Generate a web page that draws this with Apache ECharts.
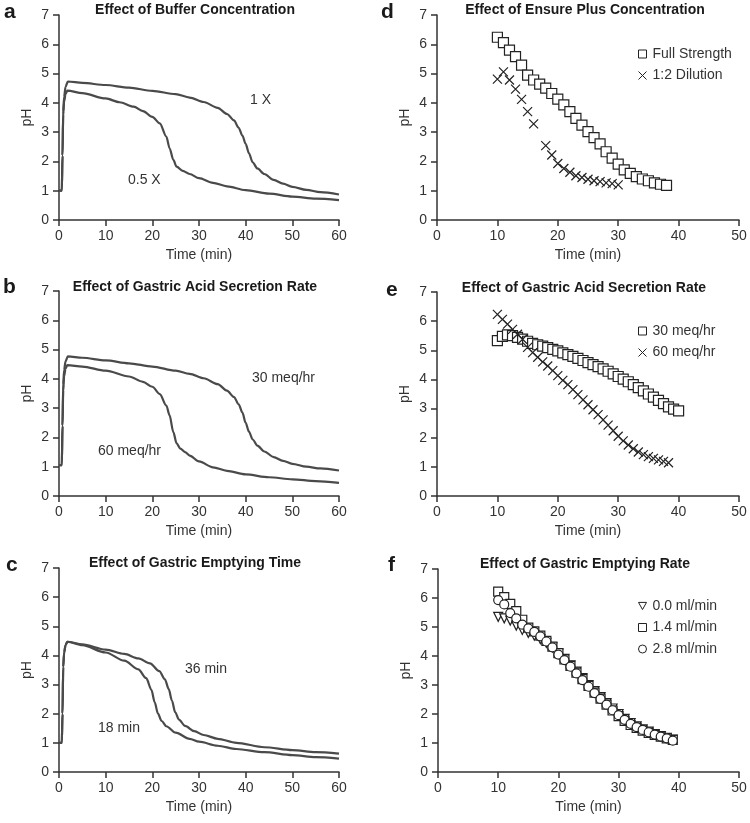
<!DOCTYPE html>
<html>
<head>
<meta charset="utf-8">
<script src="https://cdn.jsdelivr.net/npm/echarts@6/dist/echarts.min.js"></script>
<style>html,body{margin:0;padding:0;background:#fff}#c{width:750px;height:823px}</style>
</head>
<body>
<div id="c"></div>
<script>
// ---------- Panel a: Effect of Buffer Concentration ----------
const aT_half = [0, 0.6, 0.75, 0.9, 1.1, 1.4, 1.8, 5, 10, 13, 16, 18, 20, 21.6, 23, 23.7, 24.5, 25.2, 26.5, 28, 30, 33, 36, 40, 45, 50, 55, 60];
const aPH_half = [1.0, 1.0, 2.2, 3.6, 4.05, 4.3, 4.42, 4.33, 4.15, 4.02, 3.87, 3.72, 3.52, 3.3, 2.85, 2.45, 2.05, 1.82, 1.68, 1.57, 1.43, 1.27, 1.15, 1.02, 0.9, 0.8, 0.73, 0.68];
const aT_one = [0, 0.6, 0.75, 0.9, 1.1, 1.4, 1.9, 5, 10, 15, 20, 25, 28, 31, 34, 36, 37.5, 38.5, 39.3, 40, 40.7, 41.5, 42.5, 44, 46, 48, 50, 53, 56, 60];
const aPH_one = [1.0, 1.0, 2.2, 3.7, 4.2, 4.55, 4.73, 4.68, 4.61, 4.52, 4.41, 4.3, 4.18, 4.03, 3.83, 3.62, 3.4, 3.15, 2.88, 2.6, 2.28, 1.97, 1.76, 1.57, 1.37, 1.24, 1.13, 1.03, 0.95, 0.87];

// ---------- Panel b: Effect of Gastric Acid Secretion Rate ----------
const bT_30 = [0, 0.6, 0.75, 0.9, 1.1, 1.4, 1.9, 5, 10, 15, 20, 25, 28, 31, 34, 36, 37.5, 38.5, 39.3, 40, 40.7, 41.5, 42.5, 44, 46, 48, 50, 53, 56, 60];
const bPH_30 = [1.05, 1.05, 2.4, 3.8, 4.3, 4.6, 4.77, 4.72, 4.63, 4.53, 4.42, 4.28, 4.17, 4.02, 3.82, 3.6, 3.38, 3.13, 2.85, 2.5, 2.2, 1.93, 1.72, 1.52, 1.33, 1.2, 1.1, 1.0, 0.94, 0.87];
const bT_60 = [0, 0.6, 0.75, 0.9, 1.1, 1.4, 1.8, 5, 10, 15, 18, 20, 21.6, 23, 23.7, 24.5, 25.2, 26, 27, 28, 30, 33, 36, 40, 45, 50, 55, 60];
const bPH_60 = [1.05, 1.05, 2.4, 3.6, 4.1, 4.35, 4.47, 4.42, 4.28, 4.08, 3.9, 3.73, 3.48, 3.09, 2.75, 2.18, 1.8, 1.62, 1.5, 1.38, 1.18, 0.98, 0.86, 0.74, 0.64, 0.57, 0.51, 0.45];

// ---------- Panel c: Effect of Gastric Emptying Time ----------
const cT_18 = [0, 0.6, 0.75, 0.9, 1.1, 1.4, 1.8, 5, 10, 14, 17, 18.7, 19.8, 20.5, 21.2, 22, 23, 25, 28, 30, 34, 38, 44, 50, 55, 60];
const cPH_18 = [1.0, 1.0, 2.0, 3.6, 4.1, 4.35, 4.47, 4.35, 4.1, 3.82, 3.52, 3.22, 2.82, 2.4, 2.0, 1.75, 1.57, 1.35, 1.14, 1.04, 0.9, 0.79, 0.68, 0.58, 0.51, 0.46];
const cT_36 = [0, 0.6, 0.75, 0.9, 1.1, 1.4, 1.8, 5, 10, 14, 17, 19.5, 21.5, 22.7, 23.5, 24.2, 24.9, 25.7, 27, 29, 31, 34, 38, 44, 50, 55, 60];
const cPH_36 = [1.0, 1.0, 2.0, 3.6, 4.1, 4.35, 4.47, 4.38, 4.2, 4.05, 3.9, 3.73, 3.46, 3.18, 2.85, 2.45, 2.05, 1.8, 1.58, 1.4, 1.27, 1.14, 1.0, 0.85, 0.75, 0.68, 0.63];

// ---------- Panel d: Effect of Ensure Plus Concentration ----------
const dT_full = [10, 11, 12, 13, 14, 15, 16, 17, 18, 19, 20, 21, 22, 23, 24, 25, 26, 27, 28, 29, 30, 31, 32, 33, 34, 35, 36, 37, 38];
const dPH_full = [6.24, 6.06, 5.8, 5.58, 5.29, 4.95, 4.78, 4.64, 4.5, 4.32, 4.13, 3.93, 3.7, 3.47, 3.24, 3.02, 2.81, 2.6, 2.33, 2.11, 1.91, 1.71, 1.59, 1.48, 1.4, 1.34, 1.27, 1.22, 1.18];
const dT_dil = [10, 11, 12, 13, 14, 15, 16, 18, 19, 20, 21, 22, 23, 24, 25, 26, 27, 28, 29, 30];
const dPH_dil = [4.81, 5.06, 4.78, 4.47, 4.12, 3.7, 3.28, 2.54, 2.22, 1.93, 1.76, 1.63, 1.51, 1.45, 1.39, 1.34, 1.31, 1.27, 1.24, 1.2];

// ---------- Panel e: Effect of Gastric Acid Secretion Rate ----------
const eT_30 = [10, 10.83, 11.67, 12.5, 13.33, 14.17, 15, 15.83, 16.67, 17.5, 18.33, 19.17, 20, 20.83, 21.67, 22.5, 23.33, 24.17, 25, 25.83, 26.67, 27.5, 28.33, 29.17, 30, 30.83, 31.67, 32.5, 33.33, 34.17, 35, 35.83, 36.67, 37.5, 38.33, 39.17, 40];
const ePH_30 = [5.33, 5.48, 5.53, 5.5, 5.44, 5.38, 5.31, 5.24, 5.19, 5.14, 5.09, 5.03, 4.98, 4.91, 4.85, 4.79, 4.72, 4.65, 4.58, 4.51, 4.44, 4.36, 4.28, 4.19, 4.1, 4.01, 3.92, 3.82, 3.72, 3.61, 3.5, 3.39, 3.28, 3.17, 3.06, 2.98, 2.92];
const eT_60 = [10, 10.83, 11.67, 12.5, 13.33, 14.17, 15, 15.83, 16.67, 17.5, 18.33, 19.17, 20, 20.83, 21.67, 22.5, 23.33, 24.17, 25, 25.83, 26.67, 27.5, 28.33, 29.17, 30, 30.83, 31.67, 32.5, 33.33, 34.17, 35, 35.83, 36.67, 37.5, 38.33];
const ePH_60 = [6.23, 6.06, 5.9, 5.72, 5.55, 5.38, 5.1, 4.92, 4.76, 4.6, 4.46, 4.3, 4.13, 3.97, 3.82, 3.65, 3.48, 3.3, 3.13, 2.96, 2.79, 2.61, 2.43, 2.24, 2.05, 1.89, 1.75, 1.62, 1.51, 1.42, 1.35, 1.29, 1.24, 1.19, 1.14];

// ---------- Panel f: Effect of Gastric Emptying Rate ----------
const fT = [10, 11, 12, 13, 14, 15, 16, 17, 18, 19, 20, 21, 22, 23, 24, 25, 26, 27, 28, 29, 30, 31, 32, 33, 34, 35, 36, 37, 38, 39];
const fPH_00 = [5.35, 5.3, 5.22, 5.05, 4.9, 4.8, 4.7, 4.58, 4.45, 4.3, 4.08, 3.9, 3.68, 3.46, 3.24, 3.0, 2.79, 2.58, 2.38, 2.19, 2.0, 1.83, 1.69, 1.57, 1.47, 1.39, 1.31, 1.24, 1.18, 1.12];
const fPH_14 = [6.22, 6.03, 5.8, 5.55, 5.25, 4.98, 4.85, 4.7, 4.52, 4.32, 4.1, 3.88, 3.66, 3.43, 3.2, 2.97, 2.74, 2.53, 2.32, 2.12, 1.93, 1.76, 1.62, 1.52, 1.43, 1.35, 1.28, 1.22, 1.16, 1.11];
const fPH_28 = [5.93, 5.78, 5.48, 5.3, 5.08, 4.95, 4.83, 4.68, 4.5, 4.3, 4.05, 3.86, 3.63, 3.4, 3.17, 2.94, 2.72, 2.52, 2.32, 2.13, 1.96, 1.8, 1.66, 1.55, 1.45, 1.37, 1.29, 1.22, 1.16, 1.08];

const FONT = '"Liberation Sans", Arial, sans-serif';
const AX = '#333';
const TXT = '#333';

function zip(xs, ys) { return xs.map((x, i) => [x, ys[i]]); }

const grids = [
  { left: 59, top: 15, width: 280, height: 205 },   // a
  { left: 59, top: 291, width: 280, height: 205 },  // b
  { left: 59, top: 568, width: 280, height: 204 },  // c
  { left: 437, top: 15, width: 302, height: 205 },  // d
  { left: 437, top: 292, width: 302, height: 204 }, // e
  { left: 438, top: 569, width: 301, height: 203 }  // f
];

function xAx(i, max) {
  return {
    gridIndex: i, type: 'value', min: 0, max: max, interval: 10,
    axisLine: { show: true, lineStyle: { color: AX, width: 1.5 } },
    axisTick: { show: true, length: 6, lineStyle: { color: AX, width: 1.5 } },
    axisLabel: { fontSize: 14, color: TXT, fontFamily: FONT, margin: 9 },
    splitLine: { show: false },
    name: 'Time (min)', nameLocation: 'middle', nameGap: 28,
    nameTextStyle: { fontSize: 14, color: TXT, fontFamily: FONT }
  };
}
function yAx(i) {
  return {
    gridIndex: i, type: 'value', min: 0, max: 7, interval: 1,
    axisLine: { show: true, lineStyle: { color: AX, width: 1.5 } },
    axisTick: { show: true, length: 6, lineStyle: { color: AX, width: 1.5 } },
    axisLabel: { fontSize: 14, color: TXT, fontFamily: FONT, margin: 10 },
    splitLine: { show: false },
    name: 'pH', nameLocation: 'middle', nameGap: 25,
    nameTextStyle: { fontSize: 14, color: TXT, fontFamily: FONT }
  };
}

function lineS(name, i, xs, ys) {
  return {
    name: name, type: 'line', xAxisIndex: i, yAxisIndex: i,
    data: zip(xs, ys), showSymbol: false, smooth: 0.3, smoothMonotone: 'x',
    lineStyle: { color: '#4a4a4a', width: 2.2 }, silent: true
  };
}
const XPATH = 'path://M0 0L10 10M10 0L0 10';
const TRI_DOWN = 'path://M0 0L10 0L5 9Z';
function scat(name, i, xs, ys, sym, size) {
  return {
    name: name, type: 'scatter', xAxisIndex: i, yAxisIndex: i,
    data: zip(xs, ys), symbol: sym, symbolSize: size,
    itemStyle: { color: sym === XPATH ? 'rgba(0,0,0,0)' : '#fff', borderColor: '#222', borderWidth: 1.2, opacity: 1 },
    silent: true
  };
}

function legendAt(top, names) {
  return {
    orient: 'vertical', left: 633, top: top, itemWidth: 8, itemHeight: 8, itemGap: 7.5,
    data: names, selectedMode: false,
    itemStyle: { borderWidth: 1 },
    textStyle: { fontSize: 14, color: TXT, fontFamily: FONT, padding: [0, 0, 0, 1] }
  };
}

function txt(x, y, s, size, bold, align) {
  return {
    type: 'text', x: x, y: y, silent: true,
    style: {
      text: s, fill: bold ? '#1a1a1a' : TXT,
      font: (bold ? 'bold ' : '') + size + 'px ' + FONT,
      textAlign: align || 'left', textVerticalAlign: 'middle'
    }
  };
}

const option = {
  animation: false,
  backgroundColor: '#fff',
  grid: grids,
  xAxis: [xAx(0, 60), xAx(1, 60), xAx(2, 60), xAx(3, 50), xAx(4, 50), xAx(5, 50)],
  yAxis: [yAx(0), yAx(1), yAx(2), yAx(3), yAx(4), yAx(5)],
  legend: [
    legendAt(42, ['Full Strength', '1:2 Dilution']),
    legendAt(319, ['30 meq/hr', '60 meq/hr']),
    legendAt(594, ['0.0 ml/min', '1.4 ml/min', '2.8 ml/min'])
  ],
  series: [
    lineS('0.5 X', 0, aT_half, aPH_half),
    lineS('1 X', 0, aT_one, aPH_one),
    lineS('b30', 1, bT_30, bPH_30),
    lineS('b60', 1, bT_60, bPH_60),
    lineS('18 min', 2, cT_18, cPH_18),
    lineS('36 min', 2, cT_36, cPH_36),
    scat('Full Strength', 3, dT_full, dPH_full, 'rect', 10),
    scat('1:2 Dilution', 3, dT_dil, dPH_dil, XPATH, 9),
    scat('30 meq/hr', 4, eT_30, ePH_30, 'rect', 10),
    scat('60 meq/hr', 4, eT_60, ePH_60, XPATH, 9),
    scat('0.0 ml/min', 5, fT, fPH_00, TRI_DOWN, 9),
    scat('1.4 ml/min', 5, fT, fPH_14, 'rect', 9),
    scat('2.8 ml/min', 5, fT, fPH_28, 'circle', 9)
  ],
  graphic: [
    // panel letters
    txt(4, 12, 'a', 21, true), txt(3, 287, 'b', 21, true), txt(6, 565, 'c', 21, true),
    txt(381, 12, 'd', 21, true), txt(386, 290, 'e', 21, true), txt(388, 565, 'f', 21, true),
    // titles
    txt(195, 10.5, 'Effect of Buffer Concentration', 14, true, 'center'),
    txt(195, 287, 'Effect of Gastric Acid Secretion Rate', 14, true, 'center'),
    txt(195, 563, 'Effect of Gastric Emptying Time', 14, true, 'center'),
    txt(585, 10.5, 'Effect of Ensure Plus Concentration', 14, true, 'center'),
    txt(584, 288, 'Effect of Gastric Acid Secretion Rate', 14, true, 'center'),
    txt(585, 564, 'Effect of Gastric Emptying Rate', 14, true, 'center'),
    // curve labels
    txt(250, 100, '1 X', 14, false), txt(128, 180, '0.5 X', 14, false),
    txt(252, 378, '30 meq/hr', 14, false), txt(98, 451, '60 meq/hr', 14, false),
    txt(185, 669, '36 min', 14, false), txt(98, 728, '18 min', 14, false)
  ]
};

const chart = echarts.init(document.getElementById('c'), null, { renderer: 'canvas' });
chart.setOption(option);
</script>
</body>
</html>
